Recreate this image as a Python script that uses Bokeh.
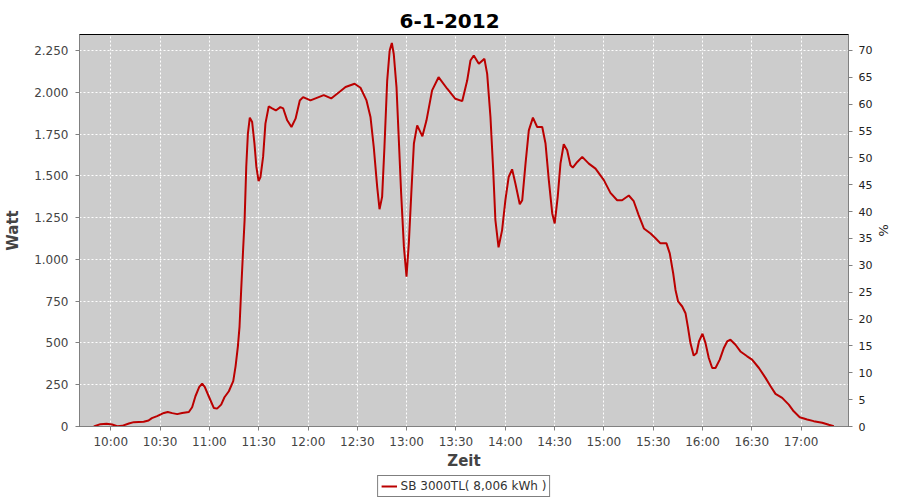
import pandas as pd
from bokeh.plotting import figure
from bokeh.layouts import column
from bokeh.models import (Range1d, LinearAxis, FixedTicker, DatetimeTickFormatter,
                          Legend, LegendItem, ColumnDataSource)
from bokeh.embed import file_html
from bokeh.resources import INLINE

DAY = "2012-01-06"
TITLE = "6-1-2012"
SERIES_NAME = "SB 3000TL( 8,006 kWh )"

times = [
    "09:49:40", "09:53:40", "09:57:25", "10:00:50", "10:03:55", "10:06:55", "10:11:00", "10:14:00",
    "10:20:00", "10:23:00", "10:25:00", "10:28:10", "10:32:20", "10:34:40", "10:37:25", "10:40:25",
    "10:43:25", "10:47:30", "10:49:30", "10:51:30", "10:53:50", "10:55:35", "10:57:10", "10:59:35",
    "11:02:40", "11:04:40", "11:07:10", "11:09:10", "11:11:50", "11:14:30", "11:15:55", "11:17:20",
    "11:18:20", "11:19:20", "11:20:30", "11:21:25", "11:22:25", "11:23:25", "11:24:35", "11:26:00",
    "11:27:25", "11:28:35", "11:29:55", "11:31:05", "11:32:40", "11:34:05", "11:36:05", "11:38:10",
    "11:40:25", "11:43:10", "11:44:55", "11:47:20", "11:49:55", "11:52:25", "11:55:00", "11:57:00",
    "12:01:30", "12:09:35", "12:14:05", "12:19:50", "12:22:50", "12:28:20", "12:31:55", "12:35:35",
    "12:38:00", "12:40:00", "12:42:05", "12:43:30", "12:45:05", "12:46:30", "12:48:10", "12:49:40",
    "12:51:00", "12:52:10", "12:53:50", "12:55:10", "12:56:40", "12:58:20", "12:59:55", "13:01:20",
    "13:02:50", "13:04:25", "13:06:25", "13:09:35", "13:12:05", "13:15:30", "13:19:25", "13:24:40",
    "13:29:40", "13:33:50", "13:36:50", "13:38:50", "13:40:50", "13:43:55", "13:47:20", "13:49:00",
    "13:51:00", "13:52:40", "13:54:00", "13:55:55", "13:58:05", "14:00:05", "14:02:05", "14:04:10",
    "14:06:10", "14:08:50", "14:10:20", "14:12:20", "14:14:20", "14:16:50", "14:19:25", "14:22:30",
    "14:24:30", "14:26:30", "14:28:35", "14:30:05", "14:31:55", "14:33:35", "14:35:35", "14:37:40",
    "14:39:40", "14:41:05", "14:43:50", "14:46:50", "14:50:50", "14:54:55", "15:00:00", "15:04:00",
    "15:08:05", "15:11:05", "15:15:10", "15:18:10", "15:21:10", "15:24:20", "15:28:25", "15:31:25",
    "15:34:25", "15:38:05", "15:40:05", "15:42:10", "15:43:35", "15:45:10", "15:47:40", "15:49:40",
    "15:51:05", "15:52:40", "15:54:40", "15:56:25", "15:57:50", "16:00:00", "16:01:50", "16:03:50",
    "16:05:55", "16:07:55", "16:10:30", "16:13:00", "16:15:00", "16:17:00", "16:20:05", "16:23:05",
    "16:27:10", "16:30:10", "16:34:20", "16:38:20", "16:41:25", "16:44:25", "16:48:30", "16:52:30",
    "16:55:30", "16:59:10", "17:03:40", "17:07:40", "17:12:50", "17:16:50", "17:19:55",
]
watts = [
    0, 14, 17, 12, 2, 4, 18, 26,
    28, 36, 50, 62, 81, 87, 80, 74,
    81, 87, 115, 181, 237, 256, 237, 181,
    111, 107, 131, 175, 211, 271, 360, 479,
    598, 817, 1056, 1235, 1553, 1752, 1848, 1822,
    1693, 1553, 1468, 1493, 1613, 1812, 1915, 1903,
    1891, 1911, 1903, 1832, 1792, 1842, 1951, 1971,
    1951, 1983, 1963, 2007, 2031, 2051, 2027, 1951,
    1852, 1672, 1434, 1300, 1374, 1672, 2070, 2249,
    2295, 2229, 2031, 1732, 1394, 1076, 897, 1096,
    1394, 1693, 1802, 1736, 1832, 2011, 2090, 2021,
    1961, 1947, 2070, 2190, 2220, 2170, 2200, 2110,
    1852, 1533, 1235, 1072, 1175, 1354, 1493, 1539,
    1454, 1330, 1354, 1573, 1772, 1848, 1792, 1792,
    1693, 1474, 1275, 1215, 1374, 1573, 1689, 1653,
    1563, 1549, 1583, 1613, 1573, 1543, 1474, 1398,
    1354, 1354, 1382, 1348, 1265, 1185, 1155, 1126,
    1096, 1096, 1036, 917, 817, 748, 718, 678,
    598, 499, 424, 440, 509, 555, 499, 410,
    350, 350, 400, 470, 509, 519, 489, 449,
    420, 400, 350, 291, 241, 195, 171, 131,
    91, 55, 42, 32, 22, 10, 2,
]

x_ticks = ["10:00", "10:30", "11:00", "11:30", "12:00", "12:30", "13:00", "13:30",
           "14:00", "14:30", "15:00", "15:30", "16:00", "16:30", "17:00"]
y_ticks = [0, 250, 500, 750, 1000, 1250, 1500, 1750, 2000, 2250]
y_tick_labels = ["0", "250", "500", "750", "1.000", "1.250", "1.500", "1.750", "2.000", "2.250"]
pct_ticks = [0, 5, 10, 15, 20, 25, 30, 35, 40, 45, 50, 55, 60, 65, 70]

x_start, x_end = "09:40:58", "17:28:50"
y_max = 2345.5
pct_max = 72.97

FONT = "DejaVu Sans"
LINE_COLOR = "#bb0000"


def ms(t):
    return pd.Timestamp(f"{DAY} {t}").value / 1e6


src = ColumnDataSource(dict(x=[pd.Timestamp(f"{DAY} {t}") for t in times], y=watts))

p = figure(x_axis_type="datetime", output_backend="svg", toolbar_location=None,
           width=900, height=472,
           min_border_left=79, min_border_right=52, min_border_top=34, min_border_bottom=45,
           x_range=Range1d(ms(x_start), ms(x_end)), y_range=Range1d(0, y_max),
           title=TITLE)

p.background_fill_color = "#cccccc"
p.border_fill_color = "white"
p.outline_line_color = "black"
p.outline_line_width = 1

p.title.align = "left"
p.title.offset = 320
p.title.vertical_align = "top"
p.title.text_font = FONT
p.title.text_font_size = "20px"
p.title.text_font_style = "bold"
p.title.text_color = "black"
p.title.standoff = 9

r = p.line("x", "y", source=src, line_color=LINE_COLOR, line_width=2)

p.extra_y_ranges = {"pct": Range1d(0, pct_max)}
raxis = LinearAxis(y_range_name="pct", axis_label="%")
p.add_layout(raxis, "right")

p.xaxis.ticker = FixedTicker(ticks=[ms(t) for t in x_ticks])
p.xaxis.formatter = DatetimeTickFormatter(
    milliseconds="%H:%M", seconds="%H:%M", minsec="%H:%M", minutes="%H:%M",
    hourmin="%H:%M", hours="%H:%M", days="%H:%M", months="%H:%M", years="%H:%M")
p.xaxis.axis_label = "Zeit"
p.yaxis[0].ticker = FixedTicker(ticks=y_ticks)
p.yaxis[0].major_label_overrides = {v: l for v, l in zip(y_ticks, y_tick_labels)}
p.yaxis[0].axis_label = "Watt"
raxis.ticker = FixedTicker(ticks=pct_ticks)

for ax in [p.xaxis[0], p.yaxis[0], raxis]:
    ax.axis_line_color = "#808080"
    ax.major_tick_line_color = "#808080"
    ax.minor_tick_line_color = None
    ax.major_tick_in = 0
    ax.major_tick_out = 4
    ax.major_label_standoff = 5
    ax.major_label_text_font = FONT
    ax.major_label_text_font_size = "12px"
    ax.major_label_text_color = "#444444"
    ax.axis_label_text_font = FONT
    ax.axis_label_text_font_size = "15px"
    ax.axis_label_text_font_style = "bold"
    ax.axis_label_text_color = "#444444"
    ax.axis_label_standoff = 6

p.yaxis[0].major_label_standoff = 7
p.yaxis[0].axis_label_standoff = 9
p.xaxis[0].major_label_standoff = 4
p.xaxis[0].axis_label_standoff = 0
raxis.major_label_standoff = 6
raxis.major_label_text_color = "#222222"
raxis.major_label_text_font_size = "11px"
raxis.axis_label_text_font_style = "normal"
raxis.axis_label_text_font_size = "13px"
raxis.axis_label_text_color = "#222222"
raxis.axis_label_standoff = 1

for g in [p.xgrid[0], p.ygrid[0]]:
    g.grid_line_color = "white"
    g.grid_line_dash = "2 2"
    g.grid_line_width = 1

# legend strip below the chart (its line sample lies outside the strip's ranges)
lg = figure(width=900, height=28, output_backend="svg", toolbar_location=None,
            min_border=0, x_axis_location=None, y_axis_location=None,
            x_range=Range1d(0, 1), y_range=Range1d(0, 1))
lg.outline_line_color = None
lg.background_fill_color = "white"
lg.border_fill_color = "white"
lg.grid.visible = False
r2 = lg.line(x=[5, 6], y=[5, 6], line_color=LINE_COLOR, line_width=2)

legend = Legend(items=[LegendItem(label=SERIES_NAME, renderers=[r2])],
                location="center", orientation="horizontal",
                border_line_color="black", border_line_width=1,
                label_text_font=FONT, label_text_font_size="12px",
                label_text_color="#333333", label_height=14, label_width=20,
                glyph_width=16, glyph_height=14, padding=3, margin=0,
                label_standoff=4, background_fill_color="white", background_fill_alpha=1)
lg.add_layout(legend, "center")

layout = column(p, lg, spacing=0)

open("out.html", "w").write(file_html(layout, INLINE))
